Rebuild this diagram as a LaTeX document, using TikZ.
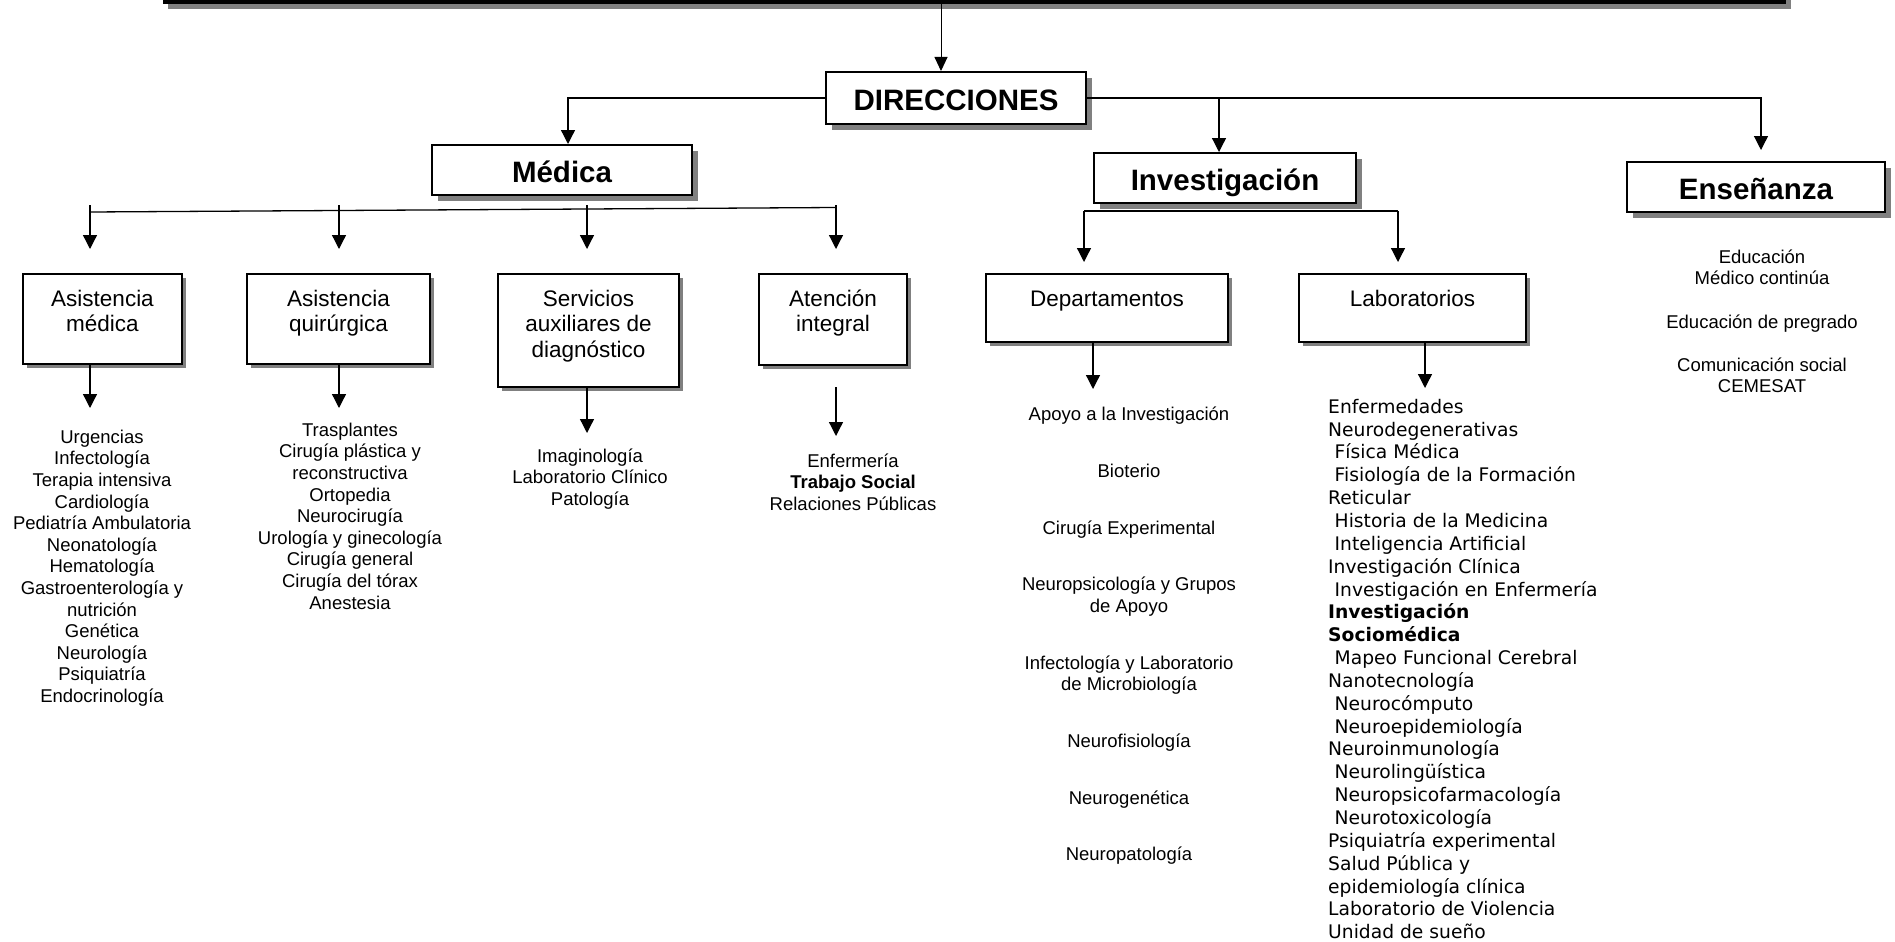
\documentclass[tikz,border=0pt]{standalone}
\usepackage{fontspec}
\setmainfont{Liberation Sans}
\newfontfamily\verdfont{DejaVu Sans}
\usetikzlibrary{arrows.meta,shadows}
\pgfdeclarelayer{background}
\pgfsetlayers{background,main}

% text of a sub-box: fixed width and height, lines hanging from the top
\newcommand\cajatexto[3]{\parbox[c][#2pt][t]{#1pt}{\centering\rule{0pt}{32pt}#3}}
% one-space indent used in the list of laboratories
\newcommand\sangria{\hspace*{6.5pt}}

\begin{document}
\begin{tikzpicture}[x=1pt,y=-1pt,
  sombra/.style={drop shadow={shadow xshift=#1, shadow yshift=-#1, fill=black!50, opacity=1}},
  head/.style={draw, line width=2pt, fill=white, inner sep=0pt, anchor=north west,
    sombra=6pt, font=\fontsize{29.5}{34}\selectfont\bfseries,
    text height=25pt, text depth=0pt},
  sub/.style={draw, line width=2pt, fill=white, inner sep=0pt, anchor=north west,
    sombra=4pt, font=\fontsize{22.5}{25.5}\selectfont},
  lista/.style={inner sep=0pt, anchor=north, align=center,
    font=\fontsize{18.5}{21.6}\selectfont},
  con/.style={line width=1.3pt},
  arr/.style={con, -{Triangle[length=14pt,width=14pt]}},
  arrsmall/.style={con, -{Triangle[length=6pt,width=8pt]}}]

\useasboundingbox (0,0) rectangle (1895,942);
\fill[white] (0,0) rectangle (1895,942);

% bottom edge of the title frame
\node[fill=black, inner sep=0pt, minimum width=1623pt, minimum height=20pt,
      anchor=south west, sombra=5pt] (titulo) at (163,4) {};

% main direction boxes
\node[head, minimum width=260pt, minimum height=52pt] (dir) at (825,71) {DIRECCIONES};
\node[head, minimum width=260pt, minimum height=50pt] (med) at (431,144) {Médica};
\node[head, minimum width=262pt, minimum height=50pt] (inv) at (1093,152) {Investigación};
\node[head, minimum width=258pt, minimum height=50pt] (ens) at (1626,161) {Enseñanza};

% sub-boxes
\node[sub] (am)  at (22,273)   {\cajatexto{159}{90}{Asistencia\\médica}};
\node[sub] (aq)  at (246,273)  {\cajatexto{183}{90}{Asistencia\\quirúrgica}};
\node[sub] (sa)  at (497,273)  {\cajatexto{181}{113}{Servicios\\auxiliares de\\diagnóstico}};
\node[sub] (ai)  at (758,273)  {\cajatexto{148}{91}{Atención\\integral}};
\node[sub] (dep) at (985,273)  {\cajatexto{242}{68}{Departamentos}};
\node[sub] (lab) at (1298,273) {\cajatexto{227}{68}{Laboratorios}};

% lists
\node[lista] (l1) at (102,427) {\rule{0pt}{16pt}Urgencias\\Infectología\\Terapia intensiva\\Cardiología\\Pediatría Ambulatoria\\Neonatología\\Hematología\\Gastroenterología y\\nutrición\\Genética\\Neurología\\Psiquiatría\\Endocrinología};
\node[lista] (l2) at (350,420) {\rule{0pt}{16pt}Trasplantes\\Cirugía plástica y\\reconstructiva\\Ortopedia\\Neurocirugía\\Urología y ginecología\\Cirugía general\\Cirugía del tórax\\Anestesia};
\node[lista] (l3) at (590,446) {\rule{0pt}{16pt}Imaginología\\Laboratorio Clínico\\Patología};
\node[lista] (l4) at (853,451) {\rule{0pt}{16pt}Enfermería\\\textbf{Trabajo Social}\\Relaciones Públicas};
\node[lista] (ldep) at (1129,404.5) {\rule{0pt}{16pt}Apoyo a la Investigación\\[35.1pt]Bioterio\\[35.1pt]Cirugía Experimental\\[35.1pt]Neuropsicología y Grupos\\de Apoyo\\[35.1pt]Infectología y Laboratorio\\de Microbiología\\[35.1pt]Neurofisiología\\[35.1pt]Neurogenética\\[35.1pt]Neuropatología};
\node[lista] (lens) at (1762,247) {\rule{0pt}{16pt}Educación\\Médico continúa\\[21.6pt]Educación de pregrado\\[21.6pt]Comunicación social\\CEMESAT};
\node[inner sep=0pt, anchor=north west, align=left,
      font=\verdfont\fontsize{18.7}{22.85}\selectfont] (llab) at (1328,396)
 {\rule{0pt}{17pt}Enfermedades\\Neurodegenerativas\\\sangria Física Médica\\\sangria Fisiología de la Formación\\Reticular\\\sangria Historia de la Medicina\\\sangria Inteligencia Artificial\\Investigación Clínica\\\sangria Investigación en Enfermería\\\textbf{Investigación}\\\textbf{Sociomédica}\\\sangria Mapeo Funcional Cerebral\\Nanotecnología\\\sangria Neurocómputo\\\sangria Neuroepidemiología\\Neuroinmunología\\\sangria Neurolingüística\\\sangria Neuropsicofarmacología\\\sangria Neurotoxicología\\Psiquiatría experimental\\Salud Pública y\\epidemiología clínica\\Laboratorio de Violencia\\Unidad de sueño};

% connector positions
\coordinate (c0) at (941,0);
\coordinate (cM) at (568,0);
\coordinate (cI) at (1219,0);
\coordinate (cE) at (1761,0);
\coordinate (cMs) at (565,207.5);
\coordinate (ma) at (90,212);
\coordinate (mb) at (836,207.5);
\coordinate (s1) at (90,205);
\coordinate (s2) at (339,205);
\coordinate (s3) at (587,205);
\coordinate (s4) at (836,205);
\coordinate (ia) at (1084,211);
\coordinate (ib) at (1398,211);
\coordinate (iI) at (1219,211);
\coordinate (d1) at (1093,0);
\coordinate (d2) at (1425,0);

% stems hidden under the shadows
\begin{pgfonlayer}{background}
  \draw[arrsmall] (med.south -| cMs) -- (cMs);
  \draw[con] (inv.south -| iI) -- (iI);
\end{pgfonlayer}

% title to directions
\draw[con, -{Triangle[length=14pt,width=13pt]}, line width=1pt] (titulo.south -| c0) -- (dir.north -| c0);
\draw[arr] (dir.west) -| (med.north -| cM);
\draw[arr, shorten >=11pt] (dir.east) -| (ens.north -| cE);
\draw[arr] (dir.east -| cI) -- (inv.north -| cI);

% medical branch
\draw[con] (ma) -- (mb);
\draw[arr, shorten >=24pt] (s1) -- (am.north -| s1);
\draw[arr, shorten >=24pt] (s2) -- (aq.north -| s2);
\draw[arr, shorten >=24pt] (s3) -- (sa.north -| s3);
\draw[arr, shorten >=24pt] (s4) -- (ai.north -| s4);

% research branch
\draw[con] (ia) -- (ib);
\draw[arr, shorten >=11pt] (ia) -- (dep.north -| ia);
\draw[arr, shorten >=11pt] (ib) -- (lab.north -| ib);

% boxes to their lists
\draw[arr, shorten >=19pt] (am.south -| s1) -- (l1.north -| s1);
\draw[arr, shorten >=12pt] (aq.south -| s2) -- (l2.north -| s2);
\draw[arr, shorten >=13pt] (sa.south -| s3) -- (l3.north -| s3);
\draw[arr, shorten <=21pt, shorten >=15pt] (ai.south -| s4) -- (l4.north -| s4);
\draw[arr, shorten >=15.5pt] (dep.south -| d1) -- (ldep.north -| d1);
\draw[arr, shorten >=8pt] (lab.south -| d2) -- (llab.north -| d2);
\end{tikzpicture}
\end{document}
